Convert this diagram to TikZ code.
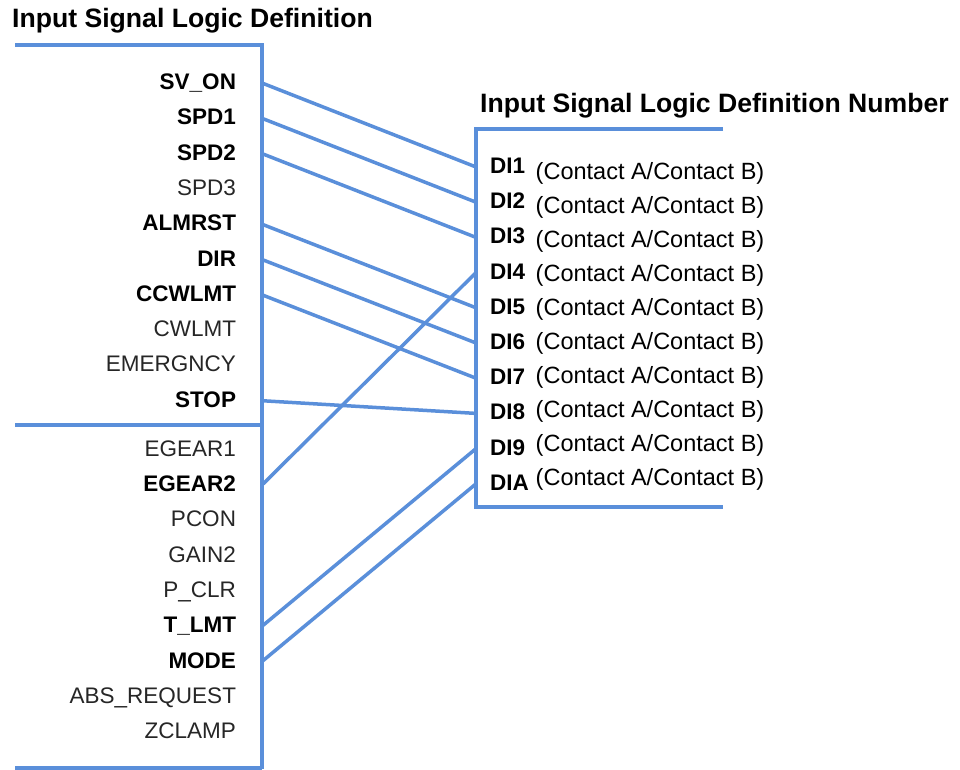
\documentclass[tikz,border=0pt]{standalone}
\usepackage{fontspec}
\setmainfont{Liberation Sans}
\usetikzlibrary{positioning}
\definecolor{wireblue}{RGB}{90,143,218}

\begin{document}
\begin{tikzpicture}[x=1pt, y=-1pt,
        wire/.style={line width=3.5pt, wireblue},
        title/.style={anchor=base west, inner sep=0pt, font=\fontsize{26.6}{28}\selectfont\bfseries},
        sig/.style={text width=170pt, align=right, inner sep=0pt, outer sep=0pt, minimum height=35.3pt,
                    text height=16pt, text depth=3pt, text=black!85,
                    font=\fontsize{22.5}{24}\selectfont},
        used/.style={text=black, font=\fontsize{22.5}{24}\selectfont\bfseries},
        dilab/.style={text width=36pt, align=left, inner sep=0pt, outer sep=0pt, minimum height=35.2pt,
                      text height=16pt, text depth=3pt, font=\fontsize{22.5}{24}\selectfont\bfseries},
        contact/.style={inner sep=0pt, outer sep=0pt, minimum height=34.1pt, text height=17pt, text depth=5pt,
                        font=\fontsize{23.5}{25}\selectfont},
        node distance=0pt]
      \useasboundingbox (0,0) rectangle (960,769);
      % titles
      \node[title] (lefttitle) at (12,27) {Input Signal Logic Definition};
      \node[title] (righttitle) at (480,112) {Input Signal Logic Definition Number};
      % box edges
      \coordinate (ltop) at (262,45);
      \coordinate (lbot) at (262,769);
      \coordinate (rtop) at (476,129);
      \coordinate (rbot) at (476,507);
      \draw[wire] (15,45) -- (ltop) -- (lbot);
      \draw[wire] (15,425) -- (262,425);
      \draw[wire] (15,768) -- (262,768);
      \draw[wire] (723,129) -- (rtop) -- (rbot) -- (723,507);
      % input signals
      \node[sig, used] (svon) at (151,83) {SV\_ON};
      \node[sig, used, below=of svon] (spd1) {SPD1};
      \node[sig, used, below=of spd1] (spd2) {SPD2};
      \node[sig, below=of spd2] (spd3) {SPD3};
      \node[sig, used, below=of spd3] (almrst) {ALMRST};
      \node[sig, used, below=of almrst] (dir) {DIR};
      \node[sig, used, below=of dir] (ccwlmt) {CCWLMT};
      \node[sig, below=of ccwlmt] (cwlmt) {CWLMT};
      \node[sig, below=of cwlmt] (emergncy) {EMERGNCY};
      \node[sig, used, below=of emergncy] (stop) {STOP};
      \node[sig, below=13.7pt of stop] (egear1) {EGEAR1};
      \node[sig, used, below=of egear1] (egear2) {EGEAR2};
      \node[sig, below=of egear2] (pcon) {PCON};
      \node[sig, below=of pcon] (gain2) {GAIN2};
      \node[sig, below=of gain2] (pclr) {P\_CLR};
      \node[sig, used, below=of pclr] (tlmt) {T\_LMT};
      \node[sig, used, below=of tlmt] (mode) {MODE};
      \node[sig, below=of mode] (absreq) {ABS\_REQUEST};
      \node[sig, below=of absreq] (zclamp) {ZCLAMP};
      % definition numbers
      \node[dilab] (di1) at (508,167) {DI1};
      \node[dilab, below=of di1] (di2) {DI2};
      \node[dilab, below=of di2] (di3) {DI3};
      \node[dilab, below=of di3] (di4) {DI4};
      \node[dilab, below=of di4] (di5) {DI5};
      \node[dilab, below=of di5] (di6) {DI6};
      \node[dilab, below=of di6] (di7) {DI7};
      \node[dilab, below=of di7] (di8) {DI8};
      \node[dilab, below=of di8] (di9) {DI9};
      \node[dilab, below=of di9] (dia) {DIA};
      \node[contact] (c1) at (650,173) {(Contact A/Contact B)};
      \node[contact, below=of c1] (c2) {(Contact A/Contact B)};
      \node[contact, below=of c2] (c3) {(Contact A/Contact B)};
      \node[contact, below=of c3] (c4) {(Contact A/Contact B)};
      \node[contact, below=of c4] (c5) {(Contact A/Contact B)};
      \node[contact, below=of c5] (c6) {(Contact A/Contact B)};
      \node[contact, below=of c6] (c7) {(Contact A/Contact B)};
      \node[contact, below=of c7] (c8) {(Contact A/Contact B)};
      \node[contact, below=of c8] (c9) {(Contact A/Contact B)};
      \node[contact, below=of c9] (ca) {(Contact A/Contact B)};
      % assignments
      \draw[wire] (svon -| ltop) -- (di1 -| rtop);
      \draw[wire] (spd1 -| ltop) -- (di2 -| rtop);
      \draw[wire] (spd2 -| ltop) -- (di3 -| rtop);
      \draw[wire] (egear2 -| ltop) -- (di4 -| rtop);
      \draw[wire] (almrst -| ltop) -- (di5 -| rtop);
      \draw[wire] (dir -| ltop) -- (di6 -| rtop);
      \draw[wire] (ccwlmt -| ltop) -- (di7 -| rtop);
      \draw[wire] (stop -| ltop) -- (di8 -| rtop);
      \draw[wire] (tlmt -| ltop) -- (di9 -| rtop);
      \draw[wire] (mode -| ltop) -- (dia -| rtop);
    \end{tikzpicture}
\end{document}
